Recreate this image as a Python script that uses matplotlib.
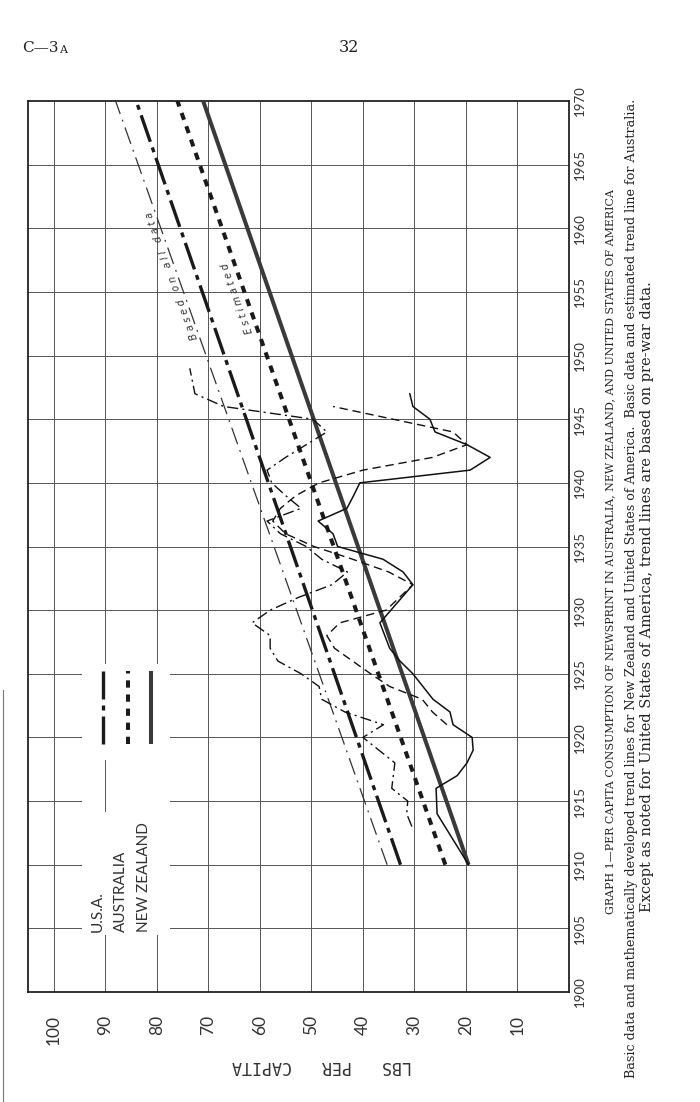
import matplotlib
matplotlib.use("Agg")
import matplotlib.pyplot as plt
import matplotlib.transforms as mtransforms
from matplotlib.lines import Line2D
from matplotlib.patches import Rectangle

# ---- data (lbs per capita) ----
years_nz = [1910, 1914, 1916, 1917, 1918, 1919, 1920, 1921, 1922, 1923, 1925, 1926,
            1927, 1929, 1932, 1933, 1934, 1935, 1936, 1937, 1938, 1939, 1940, 1941,
            1942, 1943, 1944, 1945, 1946, 1947]
nz = [19.5, 25.6, 25.8, 21.7, 19.8, 18.6, 18.8, 22.5, 23.1, 26.4, 30.3, 32.8,
      34.8, 36.7, 30.3, 32.2, 36.1, 44.9, 45.8, 48.7, 43.1, 41.8, 40.6, 19.2,
      15.3, 19.8, 26.0, 27.0, 30.3, 30.9]

years_au = [1921, 1922, 1923, 1924, 1925, 1926, 1927, 1928, 1929, 1930, 1932, 1933,
            1934, 1935, 1936, 1937, 1938, 1939, 1940, 1941, 1942, 1943, 1944, 1946]
au = [23.7, 26.5, 28.5, 34.8, 38.5, 42.0, 45.5, 47.0, 44.5, 35.5, 30.3, 35.0,
      42.0, 49.5, 55.0, 57.5, 56.0, 53.0, 48.5, 40.0, 26.5, 19.8, 22.5, 45.8]

years_us = [1913, 1914, 1915, 1916, 1918, 1920, 1921, 1922, 1923, 1924, 1925, 1926,
            1927, 1928, 1929, 1930, 1931, 1932, 1933, 1934, 1935, 1936, 1937, 1938,
            1939, 1940, 1941, 1942, 1943, 1944, 1945, 1946, 1947, 1949]
us = [30.5, 31.5, 31.3, 34.4, 33.8, 40.0, 36.0, 43.5, 48.0, 48.5, 52.0, 56.5,
      58.0, 58.0, 61.5, 58.0, 52.5, 46.0, 43.0, 48.0, 51.0, 56.0, 58.6, 52.0,
      55.0, 57.7, 58.6, 55.0, 51.0, 47.0, 49.7, 67.0, 72.6, 73.6]

# trend lines: start and end year, values at those years
trend_years = [1910, 1970]
trend_us = [32.7, 84.0]
trend_us_all = [35.3, 88.0]
trend_au = [24.0, 76.0]
trend_nz = [19.5, 71.0]

value_ticks = [100, 90, 80, 70, 60, 50, 40, 30, 20, 10]
year_ticks = list(range(1900, 1971, 5))

W, H = 700, 1102
fig = plt.figure(figsize=(W / 100, H / 100), dpi=100)
fig.patch.set_facecolor("white")

L, R, T, B = 28, 569, 101, 992
ax = fig.add_axes([L / W, 1 - B / H, (R - L) / W, (B - T) / H])
ax.set_xlim(105, 0)
ax.set_ylim(1900, 1970)
ax.set_xticks([])
ax.set_yticks([])
for s in ax.spines.values():
    s.set_linewidth(1.3)
    s.set_color("#222222")

for v in value_ticks:
    ax.axvline(v, color="#555555", lw=0.7, zorder=1)
for y in year_ticks[1:-1]:
    ax.axhline(y, color="#555555", lw=0.7, zorder=1)

# legend box (white, hides grid)
ax.add_patch(Rectangle((94.5, 1904.5), -17.0, 21.3, facecolor="white",
                       edgecolor="none", zorder=2))
ax.plot([90, 90], [1914.2, 1918.2], color="#555555", lw=0.7, zorder=2)

# trend lines
ax.plot(trend_us_all, trend_years, color="#333333", lw=0.9,
        dashes=(14, 5, 1.5, 5), zorder=3)
ax.plot(trend_nz, trend_years, color="#3a3a3a", lw=2.9, solid_capstyle="butt", zorder=4)
ax.plot(trend_us, trend_years, color="#1a1a1a", lw=2.4,
        dashes=(8.4, 1.8, 1.5, 1.8), zorder=4)
ax.plot(trend_au, trend_years, color="#1a1a1a", lw=2.9,
        dashes=(1.8, 1.7), zorder=4)

# actual data
ax.plot(nz, years_nz, color="#111111", lw=1.1, zorder=5)
ax.plot(au, years_au, color="#111111", lw=1.0, dashes=(6, 3.5), zorder=5)
ax.plot(us, years_us, color="#111111", lw=1.0, dashes=(8, 3, 1.5, 3), zorder=5)

# legend
leg_x = [90.5, 85.6, 81.2]
leg_names = ["U.S.A.", "AUSTRALIA", "NEW ZEALAND"]
leg_text_x = [91.5, 87.0, 82.4]
ax.plot([leg_x[0], leg_x[0]], [1919.5, 1925.2], color="#1a1a1a", lw=2.4,
        dashes=(8.4, 1.8, 1.5, 1.8), zorder=6)
ax.plot([leg_x[1], leg_x[1]], [1919.5, 1925.2], color="#1a1a1a", lw=2.9,
        dashes=(1.8, 1.7), zorder=6)
ax.plot([leg_x[2], leg_x[2]], [1919.5, 1925.2], color="#3a3a3a", lw=2.9,
        solid_capstyle="butt", zorder=6)
for tx, name in zip(leg_text_x, leg_names):
    ax.text(tx, 1904.7, name, rotation=90, ha="center", va="bottom",
            fontsize=11, family="Lato", color="#333333", zorder=7)

# line labels
ax.text(77.1, 1956.3, "B a s e d   o n   a l l   d a t a", rotation=110,
        rotation_mode="anchor", ha="center", va="center", fontsize=7,
        style="italic", family="DejaVu Sans", color="#333333", zorder=7)
ax.text(64.3, 1954.5, "E s t i m a t e d", rotation=110, rotation_mode="anchor",
        ha="center", va="center", fontsize=7, style="italic",
        family="DejaVu Sans", color="#333333", zorder=7)

# tick labels
tx_b = mtransforms.blended_transform_factory(ax.transData, ax.transAxes)
for v in value_ticks:
    ax.text(v, -0.026, str(v), transform=tx_b, rotation=90, ha="center",
            va="top", fontsize=12.5, family="Lato", color="#333333")
tx_r = mtransforms.blended_transform_factory(ax.transAxes, ax.transData)
for y in year_ticks:
    ax.text(1.009, y, str(y), transform=tx_r, rotation=90, ha="left",
            va="center", fontsize=9.5, family="Lato", color="#333333")

lab = fig.text(322 / W, 1 - 1066 / H, "LBS   PER   CAPITA", rotation=180,
               ha="center", va="center", fontsize=10, family="DejaVu Sans Mono",
               color="#333333")

# page header
t0 = fig.text(22 / W, 1 - 52 / H, "C\u20143", ha="left", va="baseline",
              fontsize=11, family="DejaVu Serif", color="#222222")
fig.text(349 / W, 1 - 52 / H, "32", ha="center", va="baseline",
         fontsize=11.5, family="DejaVu Serif", color="#222222")
ax.annotate("A", xy=(1, 0), xycoords=t0, xytext=(0.5, 0), textcoords="offset points",
            ha="left", va="bottom", fontsize=8, family="DejaVu Serif",
            color="#222222", annotation_clip=False)

# caption
cap1 = ("GRAPH 1\u2014PER CAPITA CONSUMPTION OF NEWSPRINT IN AUSTRALIA, "
        "NEW ZEALAND, AND UNITED STATES OF AMERICA")
cap2 = ("Basic data and mathematically developed trend lines for New Zealand and "
        "United States of America.  Basic data and estimated trend line for Australia.")
cap3 = "Except as noted for United States of America, trend lines are based on pre-war data."
caps = [(cap1, 610, 552, 725), (cap2, 631, 588, 985), (cap3, 647, 597, 627)]
fitted = []
for txt, cx, cy, length in caps:
    t = fig.text(cx / W, 1 - cy / H, txt, rotation=90, ha="center", va="center",
                 fontsize=8, family="DejaVu Serif", color="#222222")
    fitted.append((t, length))
fitted.append((lab, 180))
fig.canvas.draw()
for t, length in fitted:
    bb = t.get_window_extent()
    cur = bb.height if t.get_rotation() == 90 else bb.width
    t.set_fontsize(t.get_fontsize() * length / cur)

# scan edge line on the left
fig.add_artist(Line2D([3 / W, 3 / W], [0, 1 - 690 / H], color="#777777", lw=0.8))

fig.savefig("out.png", dpi=100, facecolor="white")
